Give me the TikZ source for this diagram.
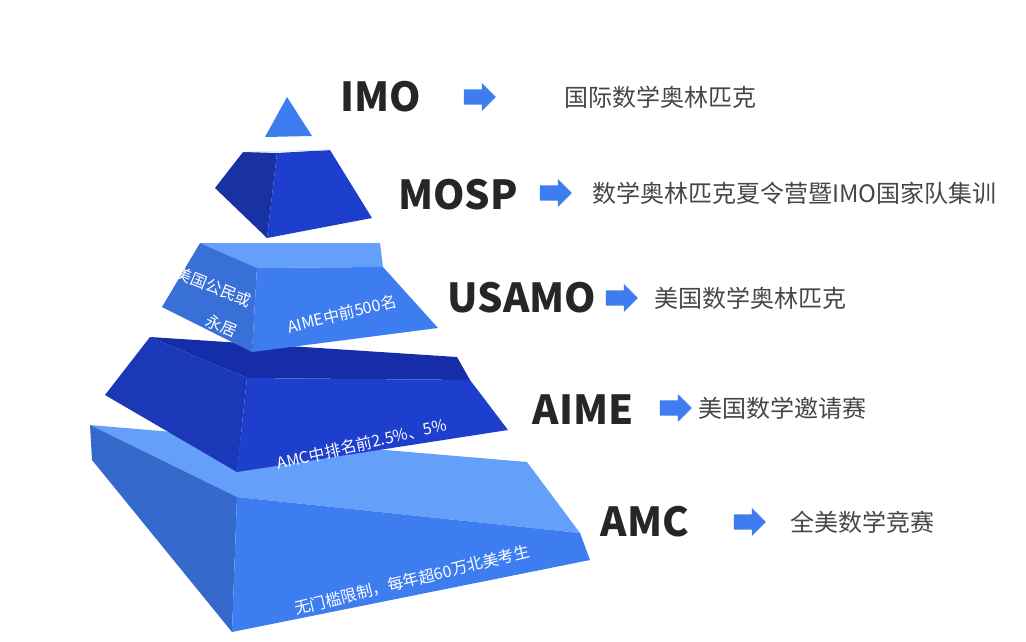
\documentclass[tikz,border=0pt]{standalone}
\usepackage{fontspec}
\setmainfont{Noto Sans CJK SC}
\usetikzlibrary{shapes.arrows, positioning}
\definecolor{tierlight}{RGB}{62, 125, 240}
\definecolor{tierpale}{RGB}{100, 160, 250}
\definecolor{tierdark}{RGB}{30, 62, 205}
\definecolor{tierdeep}{RGB}{22, 45, 170}
\definecolor{captgray}{RGB}{70, 70, 70}

\tikzset{
  lvl/.style={font=\fontsize{40}{40}\selectfont\bfseries, text=black!85, inner sep=0pt},
  desc/.style={font=\fontsize{24}{24}\selectfont, text=captgray, anchor=west, inner sep=0pt},
  pointer/.style={single arrow, fill=tierlight, minimum height=32pt, minimum width=28pt,
    single arrow head extend=6pt, inner sep=0pt},
  onface/.style={font=\fontsize{16}{16}\selectfont, text=white, inner sep=0pt}
}
\newcommand{\shaft}{\rule{16pt}{0pt}\rule{0pt}{14pt}}

\begin{document}
\begin{tikzpicture}[x=1pt, y=-1pt]
  \useasboundingbox (0,0) rectangle (1026,642);
  \clip (0,0) rectangle (1026,642);

  % base tier (AMC)
  \fill[tierpale] (90,425) -- (527,462) -- (580,533) -- (237,497) -- cycle;
  \fill[tierlight!85!black] (90,425) -- (237,497) -- (232,632) -- (92,460) -- cycle;
  \fill[tierlight] (237,497) -- (580,533) -- (590,560) -- (232,632) -- cycle;
  % AIME tier
  \fill[tierdeep] (150,337) -- (457,357) -- (470,380) -- (247,378) -- cycle;
  \fill[tierdark!90!black] (150,337) -- (247,378) -- (237,472) -- (105,395) -- cycle;
  \fill[tierdark] (247,378) -- (470,380) -- (508,430) -- (237,472) -- cycle;
  % USAMO tier
  \fill[tierpale] (200,243) -- (380,243) -- (383,267) -- (257,268) -- cycle;
  \fill[tierlight!90!black] (200,243) -- (257,268) -- (252,352) -- (162,307) -- cycle;
  \fill[tierlight] (257,268) -- (383,267) -- (438,328) -- (252,352) -- cycle;
  % MOSP tier
  \fill[tierdark!80!black] (243,152) -- (277,153) -- (267,238) -- (215,188) -- cycle;
  \fill[tierdark] (277,153) -- (330,150) -- (372,218) -- (267,238) -- cycle;
  \draw[white!70!tierlight, thin] (243,152) -- (330,150);
  % IMO tip
  \fill[tierlight] (287,97) -- (312,136) -- (265,137) -- cycle;

  % texts on the faces
  \node[onface, rotate=-22] (citizen) at (214,287) {美国公民或};
  \node[onface, rotate=-22] (resident) at (222,326) {永居};
  \node[onface, rotate=14] (aimetop) at (342,314) {AIME中前500名};
  \node[onface, rotate=13] (amctop) at (362,444) {AMC中排名前2.5\%、5\%};
  \node[onface, rotate=14] (entry) at (412,580) {无门槛限制，每年超60万北美考生};

  % level names, arrows and meanings
  \node[lvl] (imo) at (381,97) {IMO};
  \node[pointer] (imoarrow) at (476,97) {\shaft};
  \node[desc] (imodesc) at (564,97) {国际数学奥林匹克};

  \node[lvl] (mosp) at (458,195) {MOSP};
  \node[pointer] (mosparrow) at (552,193) {\shaft};
  \node[desc] (mospdesc) at (592,193) {数学奥林匹克夏令营暨IMO国家队集训};

  \node[lvl] (usamo) at (522,298) {USAMO};
  \node[pointer] (usamoarrow) at (618,298) {\shaft};
  \node[desc] (usamodesc) at (654,298) {美国数学奥林匹克};

  \node[lvl] (aime) at (583,410) {AIME};
  \node[pointer] (aimearrow) at (672,408) {\shaft};
  \node[desc] (aimedesc) at (698,408) {美国数学邀请赛};

  \node[lvl] (amc) at (645,522) {AMC};
  \node[pointer] (amcarrow) at (746,522) {\shaft};
  \node[desc] (amcdesc) at (790,522) {全美数学竞赛};
\end{tikzpicture}
\end{document}
